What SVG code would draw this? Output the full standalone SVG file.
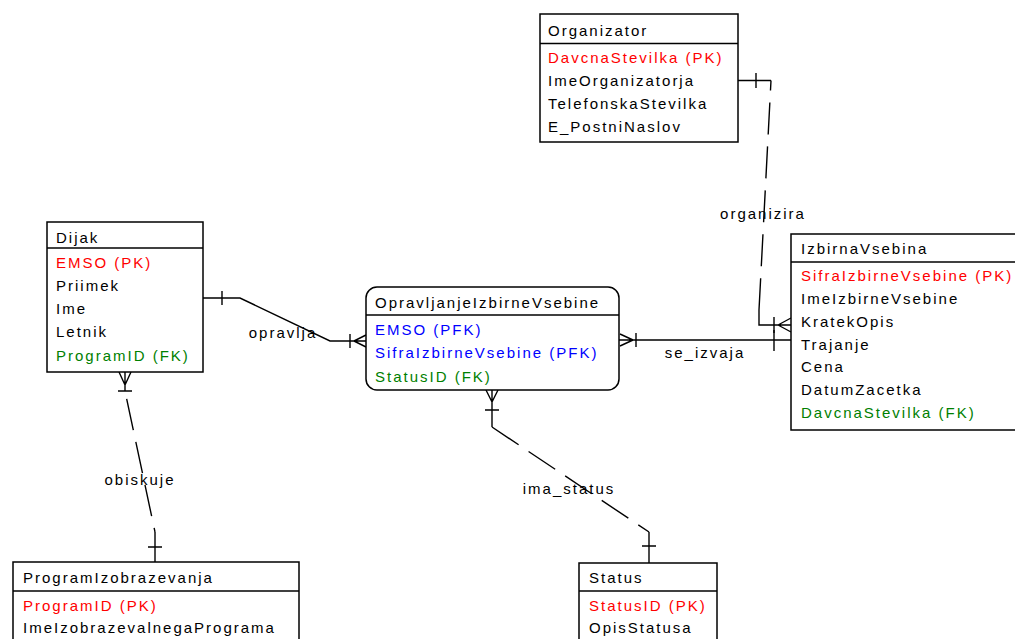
<svg xmlns="http://www.w3.org/2000/svg" width="1015" height="639" viewBox="0 0 1015 639">
<style>
text{font-family:"Liberation Sans",Arial,sans-serif;font-size:15px;letter-spacing:2px;fill:#000}
.pk{fill:#ff0000}.pfk{fill:#0000ff}.fk{fill:#008000}
.box{fill:#fff;stroke:#000;stroke-width:1.5}
.ln{fill:none;stroke:#000;stroke-width:1.4}
.dash{fill:none;stroke:#000;stroke-width:1.4;stroke-dasharray:32 12}
.lbl{text-anchor:middle}
</style>
<rect width="1015" height="639" fill="#fff"/>
<g id="connectors">
  <!-- organizira -->
  <path class="ln" d="M738,80.5 L771,80.5 M756,73 V88"/>
  <path class="dash" d="M771,80.5 L759,310" stroke-dashoffset="22"/>
  <path class="ln" d="M759,310 V325 H791 M774,317 V333 M778,325 L791,318 M778,325 L791,332"/>
  <text class="lbl" x="763" y="219">organizira</text>
  <!-- se_izvaja -->
  <path class="ln" d="M619,340 H791 M774,330 V351 M636,333 V347 M633,340 L620,334 M633,340 L620,346"/>
  <text class="lbl" x="705" y="358">se_izvaja</text>
  <!-- opravlja -->
  <path class="ln" d="M203,298 H240 L330,341 H366 M222,291 V305 M350,334 V348 M354,341 L366,335 M354,341 L366,347"/>
  <text class="lbl" x="283" y="338">opravlja</text>
  <!-- obiskuje -->
  <path class="ln" d="M125,372 V391 M118,391 H132 M125,385 L119,372 M125,385 L131,372"/>
  <path class="dash" d="M125,391 L155,532" stroke-dashoffset="-8"/>
  <path class="ln" d="M155,532 V562 M148,547 H162"/>
  <text class="lbl" x="140" y="485">obiskuje</text>
  <!-- ima_status -->
  <path class="ln" d="M492,390 V427 M485,410 H499 M492,402 L486,390 M492,402 L498,390"/>
  <path class="dash" d="M492,427 L649,532"/>
  <path class="ln" d="M649,532 V563 M642,546 H656"/>
  <text class="lbl" x="569" y="494">ima_status</text>
</g>
<g id="Organizator">
  <rect class="box" x="540" y="14" width="198" height="128"/>
  <line class="ln" x1="540" y1="43.5" x2="738" y2="43.5"/>
  <text x="548" y="36">Organizator</text>
  <text class="pk" x="548" y="63">DavcnaStevilka (PK)</text>
  <text x="548" y="86">ImeOrganizatorja</text>
  <text x="548" y="109">TelefonskaStevilka</text>
  <text x="548" y="132">E_PostniNaslov</text>
</g>
<g id="Dijak">
  <rect class="box" x="47" y="222" width="156" height="150"/>
  <line class="ln" x1="47" y1="248" x2="203" y2="248"/>
  <text x="56" y="243">Dijak</text>
  <text class="pk" x="56" y="268">EMSO (PK)</text>
  <text x="56" y="291">Priimek</text>
  <text x="56" y="314">Ime</text>
  <text x="56" y="337">Letnik</text>
  <text class="fk" x="56" y="361">ProgramID (FK)</text>
</g>
<g id="OpravljanjeIzbirneVsebine">
  <rect class="box" x="366" y="287" width="253" height="103" rx="11" ry="11"/>
  <line class="ln" x1="366" y1="315" x2="619" y2="315"/>
  <text x="375" y="308">OpravljanjeIzbirneVsebine</text>
  <text class="pfk" x="375" y="335">EMSO (PFK)</text>
  <text class="pfk" x="375" y="358">SifraIzbirneVsebine (PFK)</text>
  <text class="fk" x="375" y="382">StatusID (FK)</text>
</g>
<g id="IzbirnaVsebina">
  <rect class="box" x="791" y="234" width="240" height="196"/>
  <line class="ln" x1="791" y1="262" x2="1015" y2="262"/>
  <text x="801" y="254">IzbirnaVsebina</text>
  <text class="pk" x="801" y="281">SifraIzbirneVsebine (PK)</text>
  <text x="801" y="304">ImeIzbirneVsebine</text>
  <text x="801" y="327">KratekOpis</text>
  <text x="801" y="350">Trajanje</text>
  <text x="801" y="372">Cena</text>
  <text x="801" y="395">DatumZacetka</text>
  <text class="fk" x="801" y="418">DavcnaStevilka (FK)</text>
</g>
<g id="ProgramIzobrazevanja">
  <rect class="box" x="13" y="562" width="286" height="100"/>
  <line class="ln" x1="13" y1="591" x2="299" y2="591"/>
  <text x="23" y="583">ProgramIzobrazevanja</text>
  <text class="pk" x="23" y="611">ProgramID (PK)</text>
  <text x="23" y="633">ImeIzobrazevalnegaPrograma</text>
</g>
<g id="Status">
  <rect class="box" x="579" y="563" width="138" height="100"/>
  <line class="ln" x1="579" y1="591" x2="717" y2="591"/>
  <text x="589" y="583">Status</text>
  <text class="pk" x="589" y="611">StatusID (PK)</text>
  <text x="589" y="633">OpisStatusa</text>
</g>
</svg>
